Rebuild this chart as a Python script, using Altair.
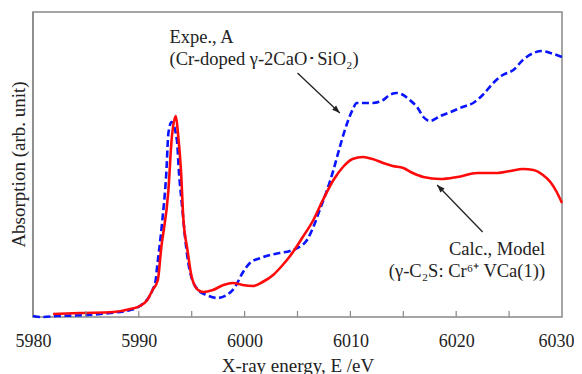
import altair as alt
import pandas as pd

# Experimental spectrum (blue dashed): energy (eV), absorption (arb. unit)
expe_energy = [5980.0, 5980.7, 5982.3, 5985.1, 5987.3, 5989.2, 5990.1, 5990.9, 5991.3, 5991.6,
               5991.7, 5992.2, 5992.6, 5992.8, 5993.1, 5993.6, 5993.8, 5994.1, 5994.4, 5994.8,
               5995.6, 5996.4, 5997.4, 5998.3, 5999.1, 5999.8, 6000.5, 6001.5, 6002.4, 6003.3,
               6004.3, 6005.0, 6005.9, 6006.5, 6007.1, 6007.8, 6008.4, 6009.0, 6009.7, 6010.2,
               6010.6, 6011.2, 6012.1, 6013.1, 6013.7, 6014.4, 6015.0, 6015.6, 6016.3, 6016.9,
               6017.5, 6018.5, 6019.7, 6020.6, 6021.6, 6022.5, 6023.5, 6024.4, 6025.4, 6026.3,
               6027.3, 6028.1, 6028.9, 6030.0]
expe_abs = [1, 0, 1, 2, 4, 7, 11, 19, 27, 37,
            47, 94, 144, 184, 195, 177, 144, 110, 77, 47,
            27, 22, 19, 22, 30, 44, 54, 59, 62, 64,
            66, 69, 77, 90, 107, 127, 147, 170, 194, 207,
            214, 214, 214, 217, 222, 224, 222, 217, 210, 200,
            196, 201, 206, 210, 214, 222, 234, 242, 247, 257,
            264, 266, 264, 260]

# Calculated spectrum (red solid)
calc_energy = [5981.9, 5984.4, 5987.6, 5989.2, 5990.1, 5990.8, 5991.3, 5991.8, 5992.1, 5992.8,
               5993.1, 5993.5, 5993.7, 5994.0, 5994.2, 5994.6, 5995.0, 5995.6, 5996.1, 5997.0,
               5998.0, 5998.9, 5999.8, 6000.8, 6001.7, 6002.7, 6003.6, 6004.3, 6005.5, 6006.5,
               6007.4, 6008.4, 6009.3, 6010.2, 6011.2, 6012.1, 6013.1, 6014.0, 6015.0, 6015.9,
               6016.9, 6018.5, 6020.1, 6022.0, 6023.9, 6025.1, 6026.3, 6027.3, 6028.2, 6028.9,
               6029.5, 6030.0]
calc_abs = [3, 4, 5, 8, 11, 17, 27, 37, 67, 127,
            177, 201, 184, 144, 100, 67, 40, 27, 25, 27,
            32, 34, 32, 31, 35, 42, 52, 61, 80, 97,
            117, 137, 150, 158, 160, 158, 154, 151, 149, 144,
            140, 138, 140, 144, 144, 146, 148, 147, 142, 135,
            125, 114]

tick_values = [5980, 5990, 6000, 6010, 6020, 6030]
minor_ticks = [5985, 5990, 5995, 6000, 6005, 6010, 6015, 6020, 6025]

# Annotations
ann_left = ["Expe., A", "(Cr-doped γ-2CaO･SiO₂)"]
ann_right = ["Calc., Model", "(γ-C₂S: Cr⁶⁺ VCa(1))"]
ann_energy = [5992.9, 6028.4]
ann_abs = [274, 62]

# Arrows: start (tail) -> end (head)
arr_e0 = [6005.0, 6022.5]
arr_a0 = [244, 85]
arr_e1 = [6009.0, 6018.2]
arr_a1 = [204, 132]
arr_angle = [43, 226]

FONT = "Liberation Serif"
TXT = "#222"
FRAME = "#888"

expe = pd.DataFrame({"E": expe_energy, "A": expe_abs})
calc = pd.DataFrame({"E": calc_energy, "A": calc_abs})

xs = alt.Scale(domain=[5980, 6030], nice=False, zero=False)
ys = alt.Scale(domain=[0, 305], nice=False, zero=False)

x_enc = alt.X("E:Q", scale=xs,
              axis=alt.Axis(values=tick_values, format="d", ticks=False, domain=False, grid=False,
                            labelFlush=False, labelPadding=15,
                            labelOffset={"condition": {"test": "datum.value == 6030", "value": -6},
                                         "value": 0},
                            labelFont=FONT, labelFontSize=18, labelColor=TXT,
                            title="X-ray energy, E /eV", titleX=264.5, titleY=54,
                            titleFont=FONT, titleFontSize=19, titleFontWeight="normal", titleColor=TXT,
                            titleBaseline="alphabetic", titleAlign="center"))
y_enc = alt.Y("A:Q", scale=ys,
              axis=alt.Axis(labels=False, ticks=False, domain=False, grid=False,
                            title="Absorption (arb. unit)",
                            titleFont=FONT, titleFontSize=19, titleFontWeight="normal", titleColor=TXT,
                            titleX=-15, titleY=152, titleAngle=270, titleAlign="center",
                            titleBaseline="middle"))

blue = alt.Chart(expe).mark_line(color="#0a14ff", strokeWidth=2.6, strokeDash=[7, 3.5],
                                 interpolate="monotone").encode(x=x_enc, y=y_enc)
red = alt.Chart(calc).mark_line(color="#ff0a0a", strokeWidth=2.6,
                                interpolate="monotone").encode(x="E:Q", y="A:Q")

ticks = alt.Chart(pd.DataFrame({"E": minor_ticks})).mark_rule(color=FRAME, strokeWidth=1.2).encode(
    x="E:Q", y=alt.value(305), y2=alt.value(299))

# left frame edge
left_edge = alt.Chart(pd.DataFrame({"E": [5980]})).mark_rule(color=FRAME, strokeWidth=1.5).encode(
    x="E:Q", y=alt.value(0), y2=alt.value(305))

arrows = pd.DataFrame({"E": arr_e0, "A": arr_a0, "E2": arr_e1, "A2": arr_a1, "ang": arr_angle})
shafts = alt.Chart(arrows).mark_rule(color="#222", strokeWidth=1.3).encode(
    x="E:Q", y="A:Q", x2="E2:Q", y2="A2:Q")
heads_df = pd.DataFrame({"E": arr_e1, "A": arr_a1, "ang": arr_angle})
heads = alt.Chart(heads_df).mark_point(shape="M0,0 L-1,-0.38 L-1,0.38 Z", filled=True, color="#222",
                                       opacity=1, size=240).encode(
    x="E:Q", y="A:Q", angle=alt.Angle("ang:Q", scale=None))

t_left = alt.Chart(pd.DataFrame({"E": [ann_energy[0]], "A": [ann_abs[0]]})).mark_text(
    font=FONT, fontSize=18.5, color=TXT, align="left", baseline="alphabetic", lineHeight=22,
    text=ann_left).encode(x="E:Q", y="A:Q")
t_right = alt.Chart(pd.DataFrame({"E": [ann_energy[1]], "A": [ann_abs[1]]})).mark_text(
    font=FONT, fontSize=18.5, color=TXT, align="right", baseline="alphabetic", lineHeight=22,
    text=ann_right).encode(x="E:Q", y="A:Q")

chart = alt.layer(left_edge, blue, red, ticks, shafts, heads, t_left, t_right).properties(
    width=529, height=305,
    background="white",
    autosize=alt.AutoSizeParams(type="none"),
    padding={"left": 25, "top": 4, "right": 12, "bottom": 57},
).configure_view(stroke=FRAME, strokeWidth=1.5).configure_axis(
    labelFont=FONT, labelFontSize=18, labelColor=TXT,
    titleFont=FONT, titleFontSize=19, titleFontWeight="normal", titleColor=TXT,
)

chart.save("out.html", embed_options={"renderer": "svg", "actions": False})
